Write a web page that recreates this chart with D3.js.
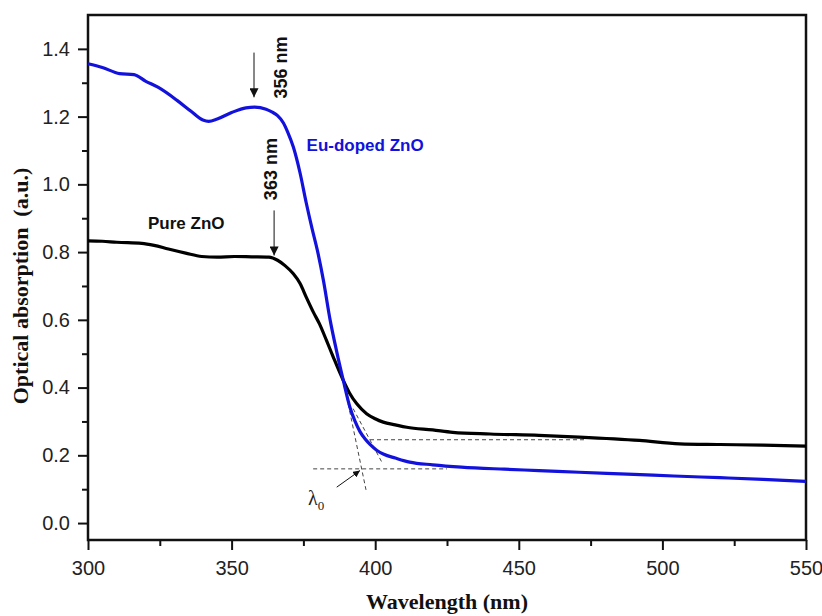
<!DOCTYPE html>
<html>
<head>
<meta charset="utf-8">
<script src="https://cdn.jsdelivr.net/npm/d3@7"></script>
<style>
  body { margin: 0; background: #fff; }
  .tick text { font-family: "Liberation Sans", Arial, sans-serif; font-size: 20px; fill: #222; }
</style>
</head>
<body>
<div id="container"></div>
<script>
/* DATA */
const wavelengthEu = [300, 305, 311, 316, 320, 324.5, 331, 336, 340, 342, 345, 350, 355, 358, 362, 364, 366, 368, 369.5, 371.5, 373.8, 376, 378, 380, 382, 384.3, 386.5, 388.9, 391.2, 393, 394.7, 396.5, 398.2, 400.5, 403, 407, 412, 420, 430, 445, 457, 471, 490, 504, 520, 535, 550];
const absorbEu = [1.356, 1.345, 1.327, 1.324, 1.305, 1.286, 1.248, 1.215, 1.190, 1.186, 1.193, 1.212, 1.226, 1.228, 1.222, 1.214, 1.203, 1.182, 1.155, 1.110, 1.035, 0.945, 0.870, 0.800, 0.715, 0.600, 0.510, 0.421, 0.342, 0.300, 0.270, 0.248, 0.232, 0.215, 0.203, 0.192, 0.180, 0.172, 0.165, 0.159, 0.155, 0.150, 0.144, 0.139, 0.134, 0.129, 0.123];

const wavelengthPure = [300, 305, 310, 318.7, 323, 328, 334, 339.6, 345, 351, 357, 363, 366, 368.6, 371.5, 373.8, 376.1, 378.5, 380.6, 383, 385.4, 388.9, 391, 393.6, 397, 400, 402.8, 407, 411, 420, 427, 440, 457, 471, 492, 506, 520, 535, 550];
const absorbPure = [0.833, 0.832, 0.829, 0.826, 0.820, 0.809, 0.797, 0.787, 0.785, 0.787, 0.786, 0.785, 0.776, 0.760, 0.736, 0.708, 0.665, 0.622, 0.588, 0.540, 0.490, 0.421, 0.385, 0.352, 0.323, 0.308, 0.298, 0.290, 0.283, 0.275, 0.268, 0.263, 0.259, 0.254, 0.244, 0.234, 0.232, 0.230, 0.227];

const xTicks = [300, 350, 400, 450, 500, 550];
const xMinor = [325, 375, 425, 475, 525];
const yTicks = [0.0, 0.2, 0.4, 0.6, 0.8, 1.0, 1.2, 1.4];
const yMinor = [0.1, 0.3, 0.5, 0.7, 0.9, 1.1, 1.3];

// peak markers: [wavelength, top value, tip value, label]
const peakArrows = [
  [357.8, 1.389, 1.257, "356 nm"],
  [364.8, 0.923, 0.790, "363 nm"]
];
// dashed construction lines [[w1, v1], [w2, v2]]
const guideLines = [
  [[390.1, 0.372], [396.8, 0.098]],
  [[392.3, 0.338], [402.3, 0.180]],
  [[378.4, 0.160], [425, 0.160]],
  [[398.2, 0.246], [473, 0.246]]
];

/* CONSTANTS */
const width = 822, height = 616,
  margin = { top: 15, bottom: 76, left: 88, right: 16 };
const blue = "#1212dc";

const svg = d3.select("#container")
  .append("svg")
  .attr("width", width)
  .attr("height", height);

const x = d3.scaleLinear().domain([300, 550]).range([margin.left, width - margin.right]);
const y = d3.scaleLinear().domain([-0.05, 1.5]).range([height - margin.bottom, margin.top]);

svg.append("defs").append("marker")
  .attr("id", "arrow")
  .attr("viewBox", "0 0 10 10")
  .attr("refX", 10).attr("refY", 5)
  .attr("markerWidth", 7).attr("markerHeight", 7)
  .attr("markerUnits", "userSpaceOnUse")
  .attr("orient", "auto")
  .append("path")
  .attr("d", "M0,0 L10,5 L0,10 z")
  .attr("fill", "#111");

svg.select("defs").append("marker")
  .attr("id", "arrowBig")
  .attr("viewBox", "0 0 10 10")
  .attr("refX", 10).attr("refY", 5)
  .attr("markerWidth", 12).attr("markerHeight", 9)
  .attr("markerUnits", "userSpaceOnUse")
  .attr("orient", "auto")
  .append("path")
  .attr("d", "M0,0 L10,5 L0,10 z")
  .attr("fill", "#111");

// AXES
svg.append("g")
  .attr("transform", `translate(0,${height - margin.bottom})`)
  .call(d3.axisBottom(x).tickValues(xTicks).tickSize(10).tickPadding(11).tickFormat(d3.format("d")));
svg.append("g")
  .attr("transform", `translate(0,${height - margin.bottom})`)
  .call(d3.axisBottom(x).tickValues(xMinor).tickSize(6).tickFormat(""));

svg.append("g")
  .attr("transform", `translate(${margin.left},0)`)
  .call(d3.axisLeft(y).tickValues(yTicks).tickSize(10).tickPadding(8).tickFormat(d3.format(".1f")));
svg.append("g")
  .attr("transform", `translate(${margin.left},0)`)
  .call(d3.axisLeft(y).tickValues(yMinor).tickSize(6).tickFormat(""));

svg.selectAll(".domain").remove();
svg.selectAll(".tick line").attr("stroke", "#111").attr("stroke-width", 2);

// frame
svg.append("rect")
  .attr("x", margin.left).attr("y", margin.top)
  .attr("width", width - margin.left - margin.right)
  .attr("height", height - margin.top - margin.bottom)
  .attr("fill", "none")
  .attr("stroke", "#111")
  .attr("stroke-width", 2.5);

// guide lines
svg.selectAll(".guide")
  .data(guideLines)
  .join("line")
  .attr("class", "guide")
  .attr("x1", d => x(d[0][0])).attr("y1", d => y(d[0][1]))
  .attr("x2", d => x(d[1][0])).attr("y2", d => y(d[1][1]))
  .attr("stroke", "#444")
  .attr("stroke-width", 1)
  .attr("stroke-dasharray", "4,3");

// CURVES
const line = d3.line().x(d => x(d[0])).y(d => y(d[1])).curve(d3.curveMonotoneX);

svg.append("path")
  .datum(d3.zip(wavelengthPure, absorbPure))
  .attr("fill", "none")
  .attr("stroke", "#000")
  .attr("stroke-width", 3.2)
  .attr("d", line);

svg.append("path")
  .datum(d3.zip(wavelengthEu, absorbEu))
  .attr("fill", "none")
  .attr("stroke", blue)
  .attr("stroke-width", 3.2)
  .attr("d", line);

// peak arrows + labels
peakArrows.forEach(([w, top, tip]) => {
  svg.append("line")
    .attr("x1", x(w)).attr("y1", y(top))
    .attr("x2", x(w)).attr("y2", y(tip))
    .attr("stroke", "#111").attr("stroke-width", 1)
    .attr("marker-end", "url(#arrowBig)");
});
svg.append("text")
  .attr("transform", `translate(${x(369.3)},${y(1.345)}) rotate(-90)`)
  .attr("text-anchor", "middle")
  .style("font-family", "Liberation Sans, Arial, sans-serif")
  .style("font-weight", "bold").style("font-size", "18px").attr("fill", "#111")
  .text(peakArrows[0][3]);
svg.append("text")
  .attr("transform", `translate(${x(365.8)},${y(1.045)}) rotate(-90)`)
  .attr("text-anchor", "middle")
  .style("font-family", "Liberation Sans, Arial, sans-serif")
  .style("font-weight", "bold").style("font-size", "18px").attr("fill", "#111")
  .text(peakArrows[1][3]);

// series labels
svg.append("text")
  .attr("x", x(320.9)).attr("y", y(0.868))
  .style("font-family", "Liberation Sans, Arial, sans-serif")
  .style("font-weight", "bold").style("font-size", "17px").attr("fill", "#111")
  .text("Pure ZnO");
svg.append("text")
  .attr("x", x(376.1)).attr("y", y(1.099))
  .style("font-family", "Liberation Sans, Arial, sans-serif")
  .style("font-weight", "bold").style("font-size", "17px").attr("fill", blue)
  .text("Eu-doped ZnO");

// lambda_0 pointer
svg.append("line")
  .attr("x1", x(386.6)).attr("y1", y(0.106))
  .attr("x2", x(394.7)).attr("y2", y(0.155))
  .attr("stroke", "#111").attr("stroke-width", 1)
  .attr("marker-end", "url(#arrow)");
const lam = svg.append("text")
  .attr("x", x(376.6)).attr("y", y(0.052))
  .style("font-family", "Liberation Serif, Times New Roman, serif")
  .style("font-size", "20px").attr("fill", "#222");
lam.append("tspan").text("λ");
lam.append("tspan").attr("dy", 5).style("font-size", "13px").text("0");

// axis titles
svg.append("text")
  .attr("x", (margin.left + width - margin.right) / 2)
  .attr("y", 609)
  .attr("text-anchor", "middle")
  .style("font-family", "Liberation Serif, Times New Roman, serif")
  .style("font-weight", "bold").style("font-size", "22px").attr("fill", "#111")
  .text("Wavelength (nm)");

svg.append("text")
  .attr("transform", "translate(28,286) rotate(-90)")
  .attr("text-anchor", "middle")
  .style("font-family", "Liberation Serif, Times New Roman, serif")
  .style("font-weight", "bold").style("font-size", "22px").attr("fill", "#111")
  .text("Optical absorption\u00a0\u00a0(a.u.)");
</script>
</body>
</html>
